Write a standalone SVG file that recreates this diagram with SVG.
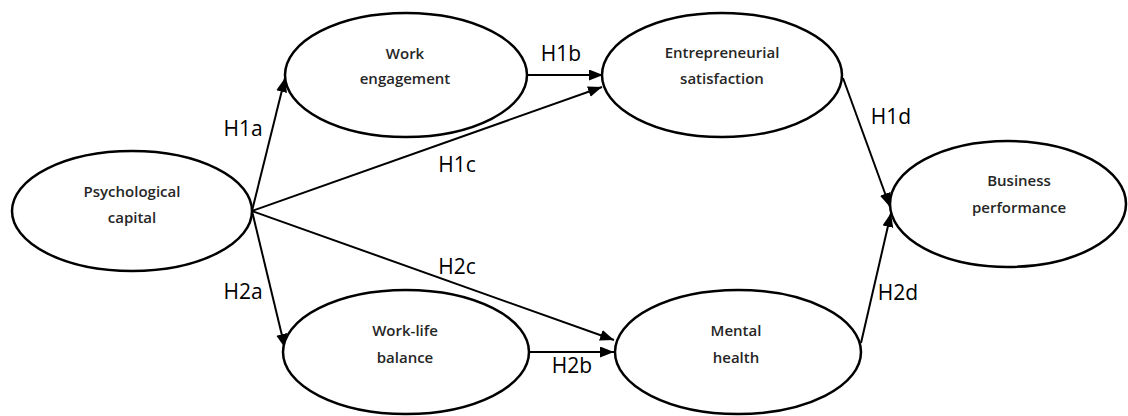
<svg xmlns="http://www.w3.org/2000/svg" width="1128" height="416" viewBox="0 0 1128 416">
  <style>
    .node ellipse { fill: #ffffff; stroke: #000000; stroke-width: 2.5; }
    .node text { font-family: "Open Sans", "Liberation Sans", sans-serif; font-size: 15px; font-weight: 600; fill: #262626; text-anchor: middle; }
    .edge { stroke: #000000; stroke-width: 2; fill: none; marker-end: url(#arrow); }
    .label { font-family: "Open Sans", "Liberation Sans", sans-serif; font-size: 21px; font-weight: 400; fill: #000000; text-anchor: middle; }
  </style>
  <defs>
    <marker id="arrow" markerUnits="userSpaceOnUse" markerWidth="15" markerHeight="12" refX="14" refY="5.5" orient="auto">
      <path d="M0,0 L14,5.5 L0,11 z" fill="#000000"/>
    </marker>
  </defs>
  <rect width="1128" height="416" fill="#ffffff"/>

  <!-- paths between constructs -->
  <g id="connectors">
    <line class="edge" x1="252" y1="211" x2="285" y2="78"/>
    <line class="edge" x1="527" y1="75" x2="603" y2="75"/>
    <line class="edge" x1="252" y1="211" x2="602" y2="87"/>
    <line class="edge" x1="843" y1="78" x2="890" y2="207"/>
    <line class="edge" x1="252" y1="211" x2="285" y2="348"/>
    <line class="edge" x1="529" y1="352" x2="614" y2="352"/>
    <line class="edge" x1="252" y1="211" x2="614" y2="340"/>
    <line class="edge" x1="861" y1="343" x2="891" y2="213"/>
  </g>

  <!-- hypothesis labels -->
  <g id="labels">
    <text class="label" x="243" y="136">H1a</text>
    <text class="label" x="561" y="61">H1b</text>
    <text class="label" x="457" y="172">H1c</text>
    <text class="label" x="891" y="124">H1d</text>
    <text class="label" x="243" y="299">H2a</text>
    <text class="label" x="572" y="373">H2b</text>
    <text class="label" x="457" y="274">H2c</text>
    <text class="label" x="898" y="300">H2d</text>
  </g>

  <g id="psychological-capital" class="node">
    <ellipse cx="132" cy="211" rx="120" ry="60"/>
    <text x="132" y="197">Psychological</text>
    <text x="132" y="223">capital</text>
  </g>
  <g id="work-engagement" class="node">
    <ellipse cx="406" cy="75" rx="121" ry="62"/>
    <text x="405" y="59">Work</text>
    <text x="405" y="84">engagement</text>
  </g>
  <g id="entrepreneurial-satisfaction" class="node">
    <ellipse cx="722" cy="75" rx="120" ry="62"/>
    <text x="722" y="58">Entrepreneurial</text>
    <text x="722" y="84">satisfaction</text>
  </g>
  <g id="business-performance" class="node">
    <ellipse cx="1008" cy="204" rx="118" ry="63"/>
    <text x="1019" y="186">Business</text>
    <text x="1019" y="213">performance</text>
  </g>
  <g id="work-life-balance" class="node">
    <ellipse cx="406" cy="352" rx="123" ry="62"/>
    <text x="405" y="336">Work-life</text>
    <text x="405" y="363">balance</text>
  </g>
  <g id="mental-health" class="node">
    <ellipse cx="738" cy="352" rx="123" ry="62"/>
    <text x="736" y="336">Mental</text>
    <text x="736" y="363">health</text>
  </g>
</svg>
